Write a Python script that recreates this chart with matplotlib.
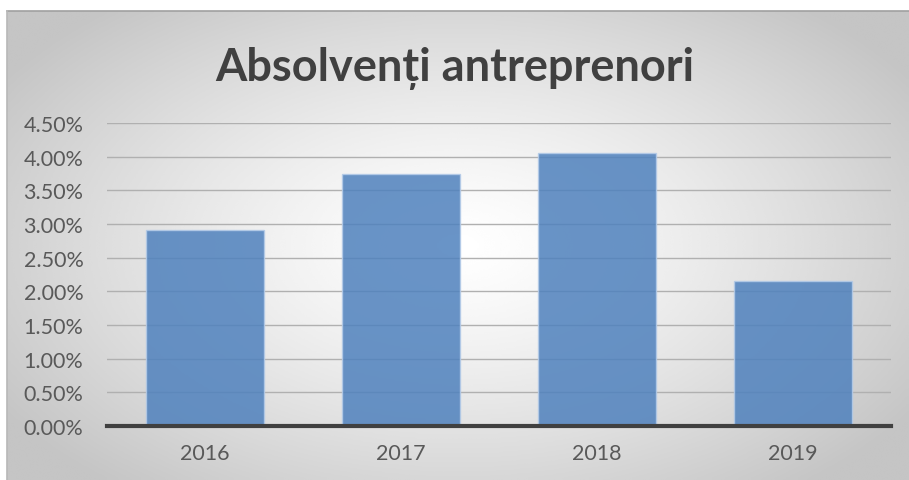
import numpy as np
from matplotlib import pyplot as plt
from matplotlib.ticker import PercentFormatter

years = ['2016', '2017', '2018', '2019']
values = [2.91, 3.74, 4.06, 2.15]
yticks = [0, 0.5, 1.0, 1.5, 2.0, 2.5, 3.0, 3.5, 4.0, 4.5]

plt.rcParams['font.family'] = ['Lato', 'DejaVu Sans']

fig = plt.figure(figsize=(9.09, 4.81), dpi=100)
fig.patch.set_facecolor('white')

# radial grey background of the chart area
bg = fig.add_axes([7/909, 0, 1 - 7/909, 1 - 12/481])
yy, xx = np.mgrid[-1:1:300j, -1:1:500j]
r = np.sqrt(xx**2 + (yy*0.9)**2)
shade = np.clip(1 - 0.18*r**1.3, 0.77, 1)
bg.imshow(shade, cmap='gray', vmin=0, vmax=1, aspect='auto',
          extent=[0, 1, 0, 1], interpolation='bicubic')
bg.set_xlim(0, 1)
bg.set_ylim(0, 1)
bg.axis('off')
bg.plot([0, 1], [1, 1], color='#a0a0a0', lw=1.2, clip_on=False)
bg.plot([0, 0], [0, 1], color='#b8b8b8', lw=1.2, clip_on=False)

ax = fig.add_axes([107/909, 1 - 427/481, 784/909, 303/481])
ax.patch.set_alpha(0)
x = np.arange(len(years))
ax.bar(x, values, width=0.6, color='#4f81bd', alpha=0.85,
       edgecolor='#b4cbe8', linewidth=1, zorder=3)
ax.set_xlim(-0.5, 3.5)
ax.set_ylim(0, 4.5)
ax.set_yticks(yticks)
ax.yaxis.set_major_formatter(PercentFormatter(decimals=2))
ax.set_xticks(x)
ax.set_xticklabels(years)
ax.grid(axis='y', color='#b0b0b0', lw=1, zorder=4)
ax.set_axisbelow(False)
for s in ['top', 'right', 'left']:
    ax.spines[s].set_visible(False)
ax.spines['bottom'].set_color('#404040')
ax.spines['bottom'].set_linewidth(3)
ax.spines['bottom'].set_zorder(5)
ax.tick_params(length=0, labelsize=15.5, labelcolor='#595959')
ax.tick_params(axis='x', pad=12)
ax.tick_params(axis='y', pad=17)

fig.text(0.5, 1 - 68/481, 'Absolvenți antreprenori', ha='center', va='center',
         fontsize=32.5, fontweight='bold', color='#404040')

fig.savefig('out.png', dpi=100)
